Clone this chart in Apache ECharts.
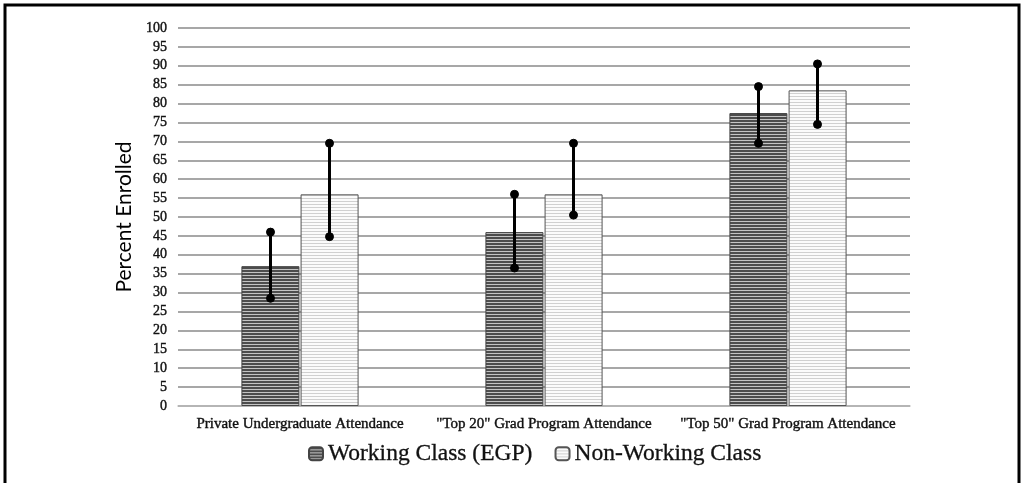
<!DOCTYPE html>
<html>
<head>
<meta charset="utf-8">
<script src="https://cdn.jsdelivr.net/npm/echarts@6/dist/echarts.min.js"></script>
<style>
  html, body { margin: 0; padding: 0; background: #fff; }
  #chart { width: 1021px; height: 483px; }
</style>
</head>
<body>
<div id="chart"></div>
<script>
// Enrollment shares by group, with confidence-interval bounds
const categories = ['Private Undergraduate Attendance', '"Top 20" Grad Program Attendance', '"Top 50" Grad Program Attendance'];
const seriesNames = ['Working Class (EGP)', 'Non-Working Class'];
const workingClass = [37, 46, 77.5];
const nonWorkingClass = [56, 56, 83.5];
const workingLow = [28.5, 36.5, 69.5];
const workingHigh = [46, 56, 84.5];
const nonWorkingLow = [44.8, 50.5, 74.5];
const nonWorkingHigh = [69.5, 69.5, 90.5];
const yTicks = { min: 0, max: 100, interval: 5 };

// Horizontal-stripe fill patterns
function stripes(line, bg, lineRows, period) {
  const c = document.createElement('canvas');
  c.width = 4; c.height = period;
  const g = c.getContext('2d');
  g.fillStyle = bg; g.fillRect(0, 0, 4, period);
  g.fillStyle = line; g.fillRect(0, 0, 4, lineRows);
  return { image: c, repeat: 'repeat' };
}
const darkFill = stripes('#4d4d4d', '#c4c4c4', 2, 3);
const lightFill = stripes('#d0d0d0', '#fbfbfb', 1, 3);

const chart = echarts.init(document.getElementById('chart'));

function errorSeries(lows, highs, offset) {
  return {
    type: 'custom',
    name: 'err' + offset,
    silent: true,
    z: 10,
    data: lows.map((lo, i) => [i, lo, highs[i]]),
    renderItem(params, api) {
      const i = api.value(0);
      const base = api.coord([i, 0]);
      const bw = api.size([1, 0])[0];
      const x = base[0] + offset * bw;
      const p1 = api.coord([i, api.value(1)])[1];
      const p2 = api.coord([i, api.value(2)])[1];
      const st = { fill: '#000', stroke: '#000' };
      return {
        type: 'group',
        children: [
          { type: 'line', shape: { x1: x, y1: p1, x2: x, y2: p2 }, style: { stroke: '#000', lineWidth: 3 } },
          { type: 'circle', shape: { cx: x, cy: p1, r: 4 }, style: st },
          { type: 'circle', shape: { cx: x, cy: p2, r: 4 }, style: st }
        ]
      };
    }
  };
}

chart.setOption({
  animation: false,
  backgroundColor: '#fff',
  graphic: [{
    type: 'rect',
    shape: { x: 5, y: 5, width: 1014, height: 490 },
    style: { fill: 'none', stroke: '#000', lineWidth: 3 },
    silent: true
  }],
  grid: { left: 178, right: 111, top: 28, bottom: 77, containLabel: false },
  legend: {
    data: seriesNames,
    bottom: 12,
    left: 303,
    itemWidth: 14,
    itemHeight: 13,
    itemGap: 22,
    textStyle: { fontFamily: 'Liberation Serif', fontSize: 23.5, color: '#111', textBorderColor: '#111', textBorderWidth: 0.3 }
  },
  xAxis: {
    type: 'category',
    data: categories,
    axisTick: { show: false },
    axisLine: { lineStyle: { color: '#bbb', width: 1.5 } },
    axisLabel: { fontFamily: 'Liberation Serif', fontSize: 15, color: '#111', margin: 11, interval: 0, textBorderColor: '#111', textBorderWidth: 0.4 }
  },
  yAxis: {
    type: 'value',
    min: yTicks.min, max: yTicks.max, interval: yTicks.interval,
    name: 'Percent Enrolled',
    nameLocation: 'middle',
    nameGap: 43,
    nameTextStyle: { fontFamily: 'Lato', fontSize: 21, color: '#000' },
    axisLine: { show: false },
    axisTick: { show: false },
    splitLine: { lineStyle: { color: '#8a8a8a', width: 1.5 } },
    axisLabel: { fontFamily: 'Liberation Serif', fontSize: 14, color: '#111', margin: 11, textBorderColor: '#111', textBorderWidth: 0.4 }
  },
  series: [
    {
      name: seriesNames[0], type: 'bar', data: workingClass,
      barWidth: 58, barGap: '2%',
      itemStyle: { color: darkFill, borderColor: '#444', borderWidth: 1 }
    },
    {
      name: seriesNames[1], type: 'bar', data: nonWorkingClass,
      barWidth: 58, barGap: '2%',
      itemStyle: { color: lightFill, borderColor: '#555', borderWidth: 1 }
    },
    errorSeries(workingLow, workingHigh, -29.5 / 244),
    errorSeries(nonWorkingLow, nonWorkingHigh, 29.5 / 244)
  ]
});
</script>
</body>
</html>
